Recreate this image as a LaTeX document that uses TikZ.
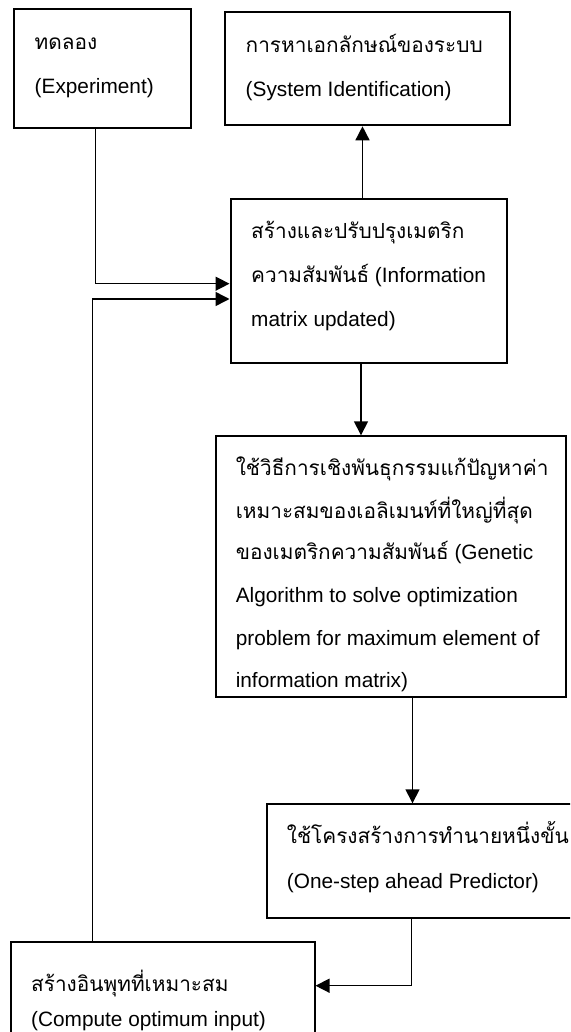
\documentclass[tikz,border=0pt]{standalone}
\usepackage{fontspec}
\setmainfont{Liberation Sans}
\newfontfamily\thaifont[Script=Thai]{Loma}
\newcommand\thaitxt[1]{{\thaifont #1}}
\usetikzlibrary{arrows.meta}
\begin{document}
\begin{tikzpicture}[x=1pt,y=-1pt,
  font=\fontsize{20.8}{25}\selectfont,
  box/.style={draw, rectangle, line width=2pt, inner sep=0pt},
  txt/.style={anchor=base west, inner sep=0pt},
  conn/.style={line width=1.5pt},
  arr/.style={conn, -{Triangle[length=14pt,width=14pt]}}]
\path[use as bounding box] (0,0) rectangle (570,1032);
\clip (0,0) rectangle (570,1032);
\fill[white] (0,0) rectangle (570,1032);

% boxes
\node[box, minimum width=177.8pt, minimum height=118.7pt] (b1) at (102.4,68.65) {};
\node[box, minimum width=284.8pt, minimum height=113pt] (b2) at (367.1,68.8) {};
\node[box, minimum width=276pt, minimum height=163.7pt] (b3) at (368.5,280.85) {};
\node[box, minimum width=349.8pt, minimum height=261pt] (b4) at (390.9,566.8) {};
\node[box, minimum width=353pt, minimum height=113.2pt] (b5) at (443.5,860.9) {};
\node[box, minimum width=304pt, minimum height=117.7pt] (b6) at (162.5,1001.15) {};

% texts
\node[txt] (t1a) at (34.5,49.3) {\thaitxt{ทดลอง}};
\node[txt] (t1b) at (34.5,93.3) {(Experiment)};
\node[txt] (t2a) at (245.5,52.7) {\thaitxt{การหาเอกลักษณ์ของระบบ}};
\node[txt] (t2b) at (245.5,96.7) {(System Identification)};
\node[txt] (t3a) at (251,238.3) {\thaitxt{สร้างและปรับปรุงเมตริก}};
\node[txt] (t3b) at (251,282.7) {\thaitxt{ความสัมพันธ์} (Information};
\node[txt] (t3c) at (251,326.7) {matrix updated)};
\node[txt] (t4a) at (235.6,475) {\thaitxt{ใช้วิธีการเชิงพันธุกรรมแก้ปัญหาค่า}};
\node[txt] (t4b) at (235.6,518.3) {\thaitxt{เหมาะสมของเอลิเมนท์ที่ใหญ่ที่สุด}};
\node[txt] (t4c) at (235.6,559.3) {\thaitxt{ของเมตริกความสัมพันธ์} (Genetic};
\node[txt] (t4d) at (235.6,602.7) {Algorithm to solve optimization};
\node[txt] (t4e) at (235.6,645) {problem for maximum element of};
\node[txt] (t4f) at (235.6,687.3) {information matrix)};
\node[txt] (t5a) at (286.7,843.3) {\thaitxt{ใช้โครงสร้างการทำนายหนึ่งขั้น}};
\node[txt] (t5b) at (286.7,888.3) {(One-step ahead Predictor)};
\node[txt] (t6a) at (31,991) {\thaitxt{สร้างอินพุทที่เหมาะสม}};
\node[txt] (t6b) at (31,1026.7) {(Compute optimum input)};

% connector coordinates
\coordinate (j1) at (95.6,283.7);
\coordinate (j2) at (92.7,299);
\coordinate (xa) at (362.5,0);
\coordinate (xb) at (361,0);
\coordinate (xc) at (412.5,0);
\coordinate (j3) at (411.5,985.7);

\draw[arr] (j1 |- b1.south) -- (j1) -- (j1 -| b3.west);
\draw[arr] (j2 |- b6.north) -- (j2) -- (j2 -| b3.west);
\draw[arr] (xa |- b3.north) -- (xa |- b2.south);
\draw[arr] (xb |- b3.south) -- (xb |- b4.north);
\draw[arr] (xc |- b4.south) -- (xc |- b5.north);
\draw[arr] (j3 |- b5.south) -- (j3) -- (j3 -| b6.east);
\end{tikzpicture}
\end{document}
